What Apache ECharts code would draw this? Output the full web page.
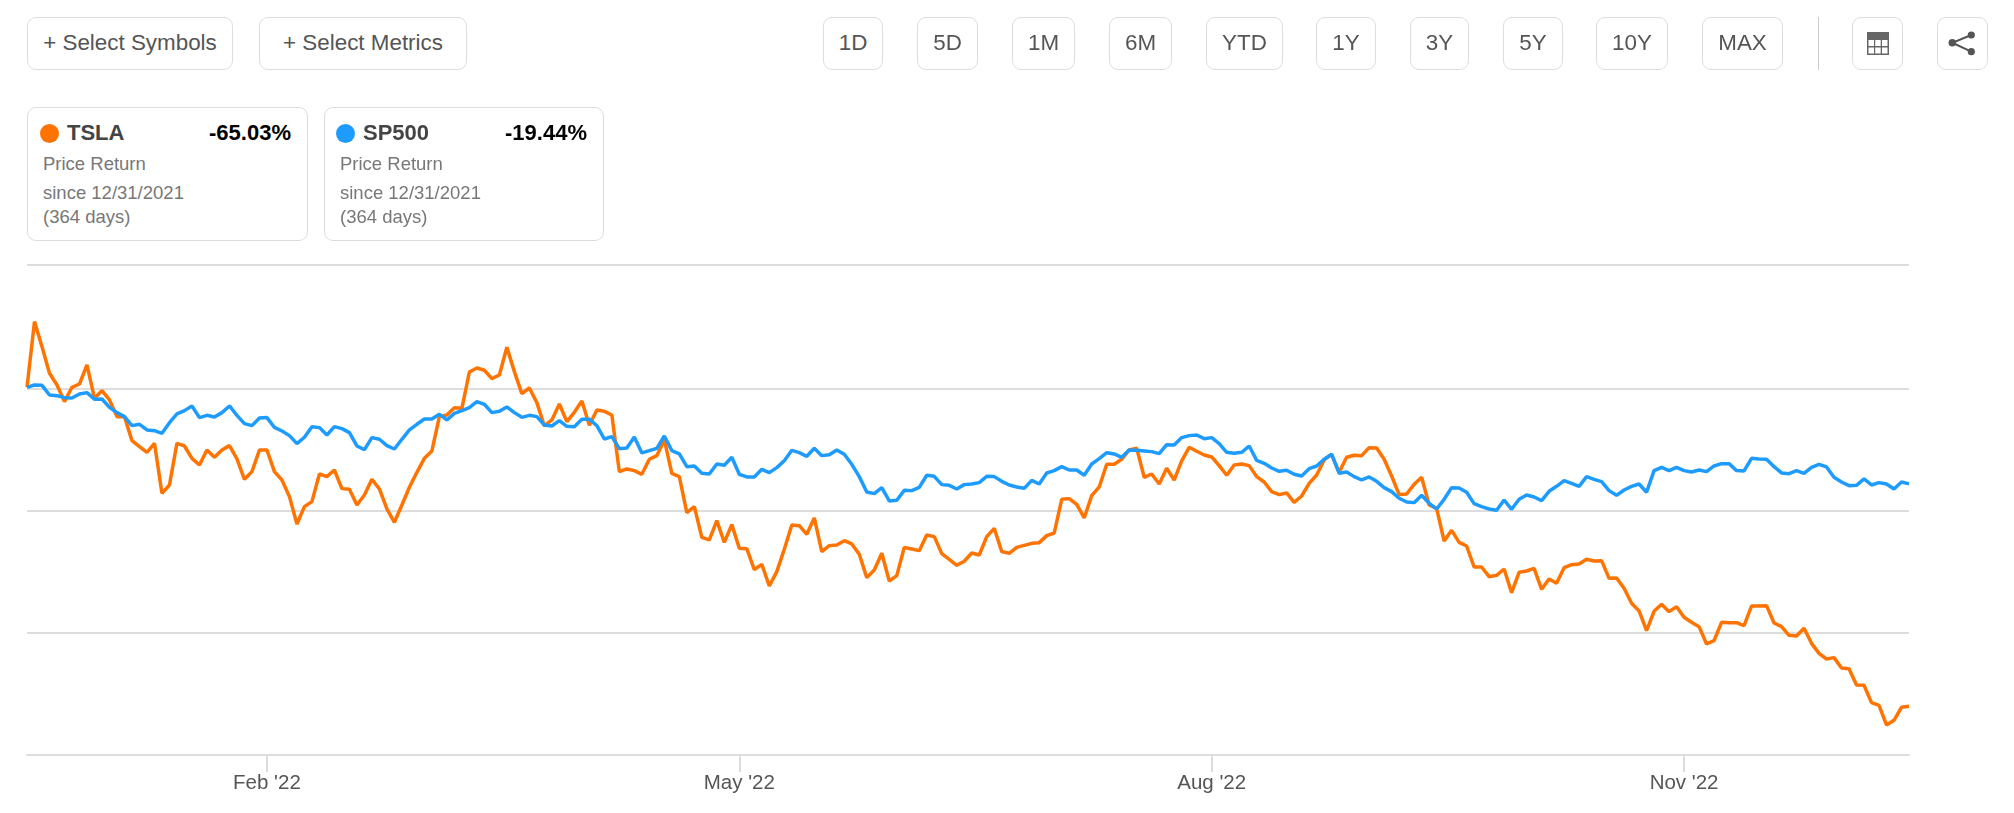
<!DOCTYPE html>
<html>
<head>
<meta charset="utf-8">
<title>TSLA vs SP500</title>
<script src="https://cdn.jsdelivr.net/npm/echarts@6/dist/echarts.min.js"></script>
<style>
  * { padding: 0; margin: 0; box-sizing: border-box; }
  html, body { width: 2014px; height: 813px; background: #fff; overflow: hidden; font-family: "Liberation Sans", Arial, sans-serif; }
  #chart { position: absolute; left: 0; top: 0; width: 2014px; height: 813px; }
  .btn {
    position: absolute; top: 17px; height: 53px; line-height: 49px;
    border: 1px solid #ddd; border-radius: 9px; background: #fff;
    text-align: center; font-size: 22.4px; color: #555;
  }
  .divider { position: absolute; left: 1818px; top: 17px; width: 1px; height: 53px; background: #ccc; }
  .card { position: absolute; top: 107px; height: 134px; border: 1px solid #ddd; border-radius: 9px; background: #fff; }
  .dot { position: absolute; left: calc(11px + var(--s)); top: 16px; width: 19px; height: 19px; border-radius: 50%; }
  .sym { position: absolute; left: calc(38px + var(--s)); top: 12px; font-size: 22px; line-height: 26px; font-weight: bold; color: #444; }
  .ret { position: absolute; right: 16px; top: 12px; font-size: 22px; line-height: 26px; font-weight: bold; color: #000; }
  .sub { position: absolute; left: 15px; font-size: 18.5px; line-height: 24px; color: #777; white-space: nowrap; }
  .icon { position: absolute; }
</style>
</head>
<body>
<div id="chart"></div>

<script>
  const holidays = ['2022-01-17', '2022-02-21', '2022-04-15', '2022-05-30', '2022-06-20', '2022-07-04', '2022-09-05', '2022-11-24', '2022-12-26'];
  const tickIndexes = [32, 95, 158, 221];
  const tickLabels = ["Feb '22", "May '22", "Aug '22", "Nov '22"];
  const gridValues = [-75, -50, -25, 0, 25.4];

  // 交易日, 12/31/2021 到 12/30/2022
  const categories = [];
  for (let d = new Date(Date.UTC(2021, 11, 31)); d <= new Date(Date.UTC(2022, 11, 30)); d = new Date(d.getTime() + 86400000)) {
    const s = d.toISOString().slice(0, 10);
    if (d.getUTCDay() !== 0 && d.getUTCDay() !== 6 && !holidays.includes(s)) categories.push(s);
  }

  // 收益率 (%)
  const tslaValues = [
    0.34, 13.80, 8.67, 3.21, 0.82, -2.60, 0.34, 1.02, 4.92, -1.91, -0.34, -2.25, -5.67, -5.67, -10.59, -11.82, -12.98, -11.13, -21.38, -19.67,
    -11.13, -11.68, -14.21, -15.57, -12.50, -14.00, -12.50, -11.61, -14.34, -18.51, -16.94, -12.50, -12.50, -16.94, -18.65, -22.06, -27.66, -24.11, -23.09, -17.42,
    -17.96, -16.60, -20.42, -20.56, -23.77, -21.72, -18.51, -20.49, -24.59, -27.32, -23.77, -20.15, -17.08, -14.21, -12.70, -5.67, -5.33, -3.83, -3.96, 3.48,
    4.30, 3.83, 2.12, 2.87, 8.54, 3.55, -0.96, 0.20, -2.80, -7.58, -6.35, -3.07, -6.69, -4.78, -2.46, -7.45, -4.30, -4.58, -5.33, -16.94,
    -16.39, -16.73, -17.49, -14.41, -13.66, -10.45, -17.28, -17.96, -25.34, -24.11, -30.40, -30.94, -26.98, -31.42, -27.80, -32.65, -32.72, -37.02, -35.93, -40.37,
    -37.43, -32.85, -27.87, -28.01, -29.78, -26.43, -33.33, -32.10, -31.97, -31.08, -31.76, -33.88, -38.66, -37.09, -33.67, -39.34, -38.25, -32.45, -32.79, -33.13,
    -29.92, -30.26, -33.74, -34.90, -36.13, -35.31, -33.61, -34.02, -30.26, -28.55, -33.33, -33.67, -32.45, -32.04, -31.63, -31.49, -30.05, -29.51, -22.61, -22.47,
    -23.63, -26.43, -21.86, -20.08, -15.44, -15.44, -14.41, -12.50, -12.16, -18.10, -17.42, -19.47, -16.26, -18.65, -14.75, -11.95, -12.77, -13.52, -13.93, -15.71,
    -17.69, -15.57, -15.37, -15.71, -17.96, -19.06, -21.04, -21.65, -21.31, -23.22, -21.93, -19.33, -17.62, -14.55, -13.39, -17.08, -14.00, -13.59, -13.66, -12.02,
    -12.09, -14.41, -17.83, -21.65, -21.52, -19.54, -18.10, -23.77, -24.45, -31.15, -28.96, -31.42, -32.17, -36.48, -36.48, -38.46, -38.18, -36.89, -41.73, -37.57,
    -37.30, -36.75, -41.05, -38.93, -39.82, -36.61, -36.00, -35.86, -34.90, -35.25, -35.18, -38.80, -38.73, -40.85, -43.92, -45.49, -49.52, -45.56, -44.13, -45.63,
    -44.60, -46.79, -47.81, -48.70, -52.25, -51.57, -47.81, -47.88, -47.88, -48.50, -44.47, -44.47, -44.40, -47.95, -48.70, -50.48, -50.61, -49.04, -52.12, -54.17,
    -55.33, -55.05, -57.17, -57.31, -60.66, -60.72, -64.28, -64.82, -68.85, -67.90, -65.23, -65.03
  ];
  const sp500Values = [
    0.34, 0.82, 0.75, -1.23, -1.37, -1.78, -1.84, -1.02, -0.75, -2.12, -2.05, -3.76, -4.85, -5.67, -7.51, -7.24, -8.40, -8.54, -9.08, -6.90,
    -5.12, -4.44, -3.48, -5.87, -5.40, -5.74, -4.85, -3.48, -5.40, -7.10, -7.51, -5.94, -5.87, -7.86, -8.61, -9.56, -11.20, -9.90, -7.72, -7.92,
    -9.43, -7.72, -8.13, -8.95, -11.68, -12.43, -9.97, -10.31, -11.61, -12.30, -10.31, -8.40, -7.24, -6.15, -6.15, -5.19, -6.35, -4.99, -4.44, -3.83,
    -2.60, -3.14, -4.85, -4.58, -3.69, -4.85, -5.81, -5.40, -5.67, -7.38, -7.58, -6.49, -7.65, -7.72, -6.22, -6.22, -7.51, -10.25, -9.77, -12.23,
    -12.09, -9.84, -13.11, -12.64, -12.16, -9.63, -12.64, -13.32, -15.92, -15.78, -17.28, -17.42, -15.37, -15.64, -14.00, -17.49, -18.03, -18.03, -16.46, -17.14,
    -16.12, -14.69, -12.57, -13.05, -13.80, -12.16, -13.66, -13.46, -12.50, -13.39, -15.44, -17.96, -21.11, -21.45, -20.22, -22.95, -22.81, -20.77, -20.83, -20.15,
    -17.69, -17.90, -19.60, -19.74, -20.49, -19.60, -19.47, -19.19, -17.90, -17.96, -18.92, -19.67, -20.08, -20.36, -18.72, -19.47, -17.21, -16.73, -15.92, -16.60,
    -16.60, -17.69, -15.37, -14.28, -13.05, -13.32, -14.00, -12.50, -12.57, -12.70, -12.84, -13.25, -11.41, -11.48, -9.97, -9.56, -9.43, -10.18, -9.97, -11.20,
    -12.98, -13.18, -12.98, -11.68, -14.62, -15.23, -16.19, -16.87, -16.67, -17.49, -17.83, -16.33, -15.78, -14.41, -13.39, -17.28, -17.01, -17.96, -18.65, -18.03,
    -18.92, -20.22, -21.04, -22.40, -23.16, -23.29, -21.79, -23.43, -24.59, -22.61, -20.22, -20.29, -21.17, -23.50, -24.11, -24.59, -24.86, -22.75, -24.66, -22.61,
    -21.72, -22.13, -22.88, -20.97, -19.95, -18.78, -19.33, -19.95, -17.96, -18.51, -18.99, -20.83, -21.79, -20.70, -19.95, -19.47, -21.17, -16.73, -16.05, -16.73,
    -16.05, -16.73, -17.01, -16.60, -16.94, -15.78, -15.30, -15.30, -16.73, -16.80, -14.21, -14.34, -14.41, -15.92, -17.21, -17.35, -16.73, -17.28, -16.05, -15.44,
    -15.98, -18.10, -19.06, -19.81, -19.74, -18.44, -19.67, -19.19, -19.47, -20.49, -19.06, -19.44
  ];

  // 顶部按钮
  const selectButtons = [['+ Select Symbols', 27, 206], ['+ Select Metrics', 259, 208]];
  const rangeButtons = [
    ['1D', 823, 60], ['5D', 917, 61], ['1M', 1012, 63], ['6M', 1109, 63], ['YTD', 1206, 77],
    ['1Y', 1316, 60], ['3Y', 1410, 59], ['5Y', 1503, 60], ['10Y', 1596, 72], ['MAX', 1702, 81]
  ];
  const iconButtons = [[1852, 51], [1937, 51]];
  const cards = [
    { left: 27, width: 281, shift: 1, color: '#ff7300', name: 'TSLA', ret: '-65.03%' },
    { left: 324, width: 280, shift: 0, color: '#1e9bff', name: 'SP500', ret: '-19.44%' }
  ];

  let html = '';
  selectButtons.concat(rangeButtons).forEach(([text, left, width]) => {
    html += `<div class="btn" style="left:${left}px;width:${width}px">${text}</div>`;
  });
  iconButtons.forEach(([left, width]) => {
    html += `<div class="btn" style="left:${left}px;width:${width}px"></div>`;
  });
  html += '<div class="divider"></div>';
  // 表格图标
  html += `<svg class="icon" style="left:1867px;top:32px" width="22" height="23" viewBox="0 0 22 23">
    <rect x="0" y="0" width="22" height="23" fill="#666"/>
    <g fill="#fff">
      <rect x="1.5" y="8" width="5.5" height="6"/><rect x="8.2" y="8" width="5.5" height="6"/><rect x="15" y="8" width="5.5" height="6"/>
      <rect x="1.5" y="15.5" width="5.5" height="6"/><rect x="8.2" y="15.5" width="5.5" height="6"/><rect x="15" y="15.5" width="5.5" height="6"/>
    </g></svg>`;
  // 分享图标
  html += `<svg class="icon" style="left:1948px;top:30px" width="29" height="27" viewBox="0 0 29 27">
    <path d="M23.3 5 L4.3 12.7 L23.3 21.7" fill="none" stroke="#555" stroke-width="2"/>
    <circle cx="23.3" cy="5" r="3.6" fill="#555"/><circle cx="4.3" cy="12.7" r="3.8" fill="#555"/><circle cx="23.3" cy="21.7" r="3.6" fill="#555"/></svg>`;
  cards.forEach(c => {
    html += `<div class="card" style="left:${c.left}px;width:${c.width}px;--s:${c.shift}px">
      <div class="dot" style="background:${c.color}"></div>
      <div class="sym">${c.name}</div>
      <div class="ret">${c.ret}</div>
      <div class="sub" style="top:44px">Price Return</div>
      <div class="sub" style="top:73px">since 12/31/2021</div>
      <div class="sub" style="top:97px">(364 days)</div>
    </div>`;
  });
  document.body.insertAdjacentHTML('beforeend', html);

  const option = {
    animation: false,
    grid: { left: 27, right: 105, top: 265, bottom: 58 },
    tooltip: { trigger: 'axis' },
    xAxis: {
      type: 'category',
      boundaryGap: false,
      data: categories,
      axisLine: { onZero: false, lineStyle: { color: '#ddd', width: 2 } },
      axisTick: {
        alignWithLabel: true,
        length: 17,
        lineStyle: { color: '#ddd', width: 2 },
        interval: (i) => tickIndexes.includes(i),
      },
      axisLabel: {
        interval: (i) => tickIndexes.includes(i),
        formatter: (v, i) => tickLabels[tickIndexes.indexOf(i)],
        color: '#555',
        fontFamily: 'Liberation Sans',
        fontSize: 20.5,
        margin: 18,
      },
    },
    yAxis: {
      type: 'value',
      min: -75,
      max: 25.4,
      axisLine: { show: false },
      axisTick: { show: false, customValues: gridValues },
      axisLabel: { show: false, customValues: gridValues },
      splitLine: { lineStyle: { color: '#ddd', width: 2 } },
    },
    series: [
      {
        name: 'TSLA',
        type: 'line',
        data: tslaValues,
        showSymbol: false,
        lineStyle: { color: '#ff7300', width: 3.5 },
        itemStyle: { color: '#ff7300' },
      },
      {
        name: 'SP500',
        type: 'line',
        data: sp500Values,
        showSymbol: false,
        lineStyle: { color: '#1e9bff', width: 3.5 },
        itemStyle: { color: '#1e9bff' },
      },
    ],
  };

  const chart = echarts.init(document.getElementById('chart'));
  chart.setOption(option);
</script>
</body>
</html>
